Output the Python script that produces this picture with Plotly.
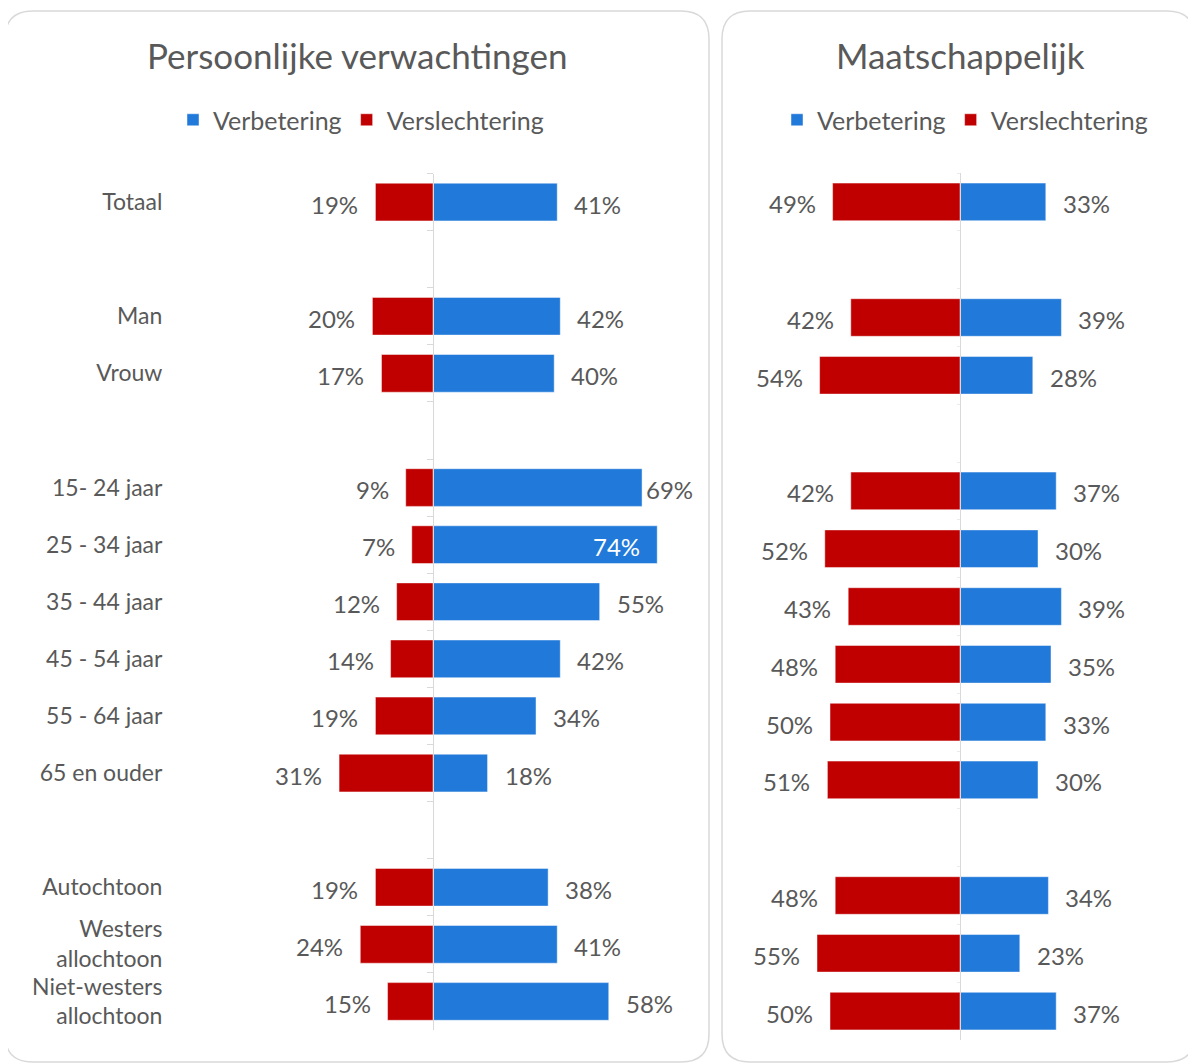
import plotly.graph_objects as go

W, H = 1196, 1064
OFF = 8  # page body margin offset

# ---------------- data ----------------
categories = ["Totaal", " ", "Man", "Vrouw", "  ",
              "15- 24 jaar", "25 - 34 jaar", "35 - 44 jaar", "45 - 54 jaar", "55 - 64 jaar", "65 en ouder",
              "   ", "Autochtoon", "Westers<br>allochtoon", "Niet-westers<br>allochtoon"]

pers_verbetering = [41, None, 42, 40, None, 69, 74, 55, 42, 34, 18, None, 38, 41, 58]
pers_verslechtering = [19, None, 20, 17, None, 9, 7, 12, 14, 19, 31, None, 19, 24, 15]

maat_verbetering = [33, None, 39, 28, None, 37, 30, 39, 35, 33, 30, None, 34, 23, 37]
maat_verslechtering = [49, None, 42, 54, None, 42, 52, 43, 48, 50, 51, None, 48, 55, 50]

series_names = ["Verbetering", "Verslechtering"]
panel_titles = ["Persoonlijke verwachtingen", "Maatschappelijk"]

# ---------------- style ----------------
BLUE = "#2179D9"
RED = "#C00000"
TXT = "#595959"
GRID = "#D9D9D9"
FONT = "Lato, 'Open Sans', sans-serif"

# label placement exceptions (style, not data)
left_blue_label_mode = {"25 - 34 jaar": "inside", "15- 24 jaar": "tight"}


def px(xp):
    return (xp - OFF) / W


def py(yp):
    return 1 - (yp - OFF) / H


fig = go.Figure()

# left panel bars
fig.add_trace(go.Bar(y=categories, x=pers_verbetering, orientation="h", name=series_names[0],
                     marker=dict(color=BLUE, line=dict(color="rgba(255,255,255,0.45)", width=1)),
                     width=0.66, xaxis="x", yaxis="y", legend="legend", hoverinfo="skip"))
fig.add_trace(go.Bar(y=categories, x=[-v if v is not None else None for v in pers_verslechtering],
                     orientation="h", name=series_names[1],
                     marker=dict(color=RED, line=dict(color="rgba(255,255,255,0.45)", width=1)),
                     width=0.66, xaxis="x", yaxis="y", legend="legend", hoverinfo="skip"))

# right panel bars
fig.add_trace(go.Bar(y=categories, x=maat_verbetering, orientation="h", name=series_names[0],
                     marker=dict(color=BLUE, line=dict(color="rgba(255,255,255,0.45)", width=1)),
                     width=0.65, xaxis="x2", yaxis="y2", legend="legend2", hoverinfo="skip"))
fig.add_trace(go.Bar(y=categories, x=[-v if v is not None else None for v in maat_verslechtering],
                     orientation="h", name=series_names[1],
                     marker=dict(color=RED, line=dict(color="rgba(255,255,255,0.45)", width=1)),
                     width=0.65, xaxis="x2", yaxis="y2", legend="legend2", hoverinfo="skip"))

annotations = []
LBL = 24
GAP = 15

# data labels
for xa, ya, pos_vals, neg_vals, modes in [
    ("x", "y", pers_verbetering, pers_verslechtering, left_blue_label_mode),
    ("x2", "y2", maat_verbetering, maat_verslechtering, {}),
]:
    for cat, pv, nv in zip(categories, pos_vals, neg_vals):
        if pv is not None:
            mode = modes.get(cat, "outside")
            if mode == "inside":
                annotations.append(dict(x=pv, y=cat, xref=xa, yref=ya, text=f"{pv}%", showarrow=False,
                                        xanchor="right", xshift=-GAP, yshift=-2,
                                        font=dict(family=FONT, size=LBL, color="white")))
            else:
                annotations.append(dict(x=pv, y=cat, xref=xa, yref=ya, text=f"{pv}%", showarrow=False,
                                        xanchor="left", xshift=(2 if mode == "tight" else GAP), yshift=-2,
                                        font=dict(family=FONT, size=LBL, color=TXT)))
        if nv is not None:
            annotations.append(dict(x=-nv, y=cat, xref=xa, yref=ya, text=f"{nv}%", showarrow=False,
                                    xanchor="right", xshift=-GAP, yshift=-2,
                                    font=dict(family=FONT, size=LBL, color=TXT)))

# panel titles
for title, cx in zip(panel_titles, [357, 960]):
    annotations.append(dict(x=px(cx), y=py(55), xref="paper", yref="paper", text=title, showarrow=False,
                            xanchor="center", yanchor="middle", font=dict(family=FONT, size=35, color=TXT)))


def rounded_rect(x0, y0, x1, y1, r):
    rx, ry = r / W, r / H
    X0, X1 = px(x0), px(x1)
    Y0, Y1 = py(y0), py(y1)  # Y0 top (larger), Y1 bottom
    return (f"M {X0 + rx},{Y0} L {X1 - rx},{Y0} Q {X1},{Y0} {X1},{Y0 - ry} "
            f"L {X1},{Y1 + ry} Q {X1},{Y1} {X1 - rx},{Y1} "
            f"L {X0 + rx},{Y1} Q {X0},{Y1} {X0},{Y1 + ry} "
            f"L {X0},{Y0 - ry} Q {X0},{Y0} {X0 + rx},{Y0} Z")


shapes = [
    dict(type="path", xref="paper", yref="paper", path=rounded_rect(5, 11, 709, 1062, 28),
         line=dict(color=GRID, width=1.5), fillcolor="rgba(0,0,0,0)", layer="below"),
    dict(type="path", xref="paper", yref="paper", path=rounded_rect(722, 11, 1195, 1062, 28),
         line=dict(color=GRID, width=1.5), fillcolor="rgba(0,0,0,0)", layer="below"),
]

n = len(categories)
common_y = dict(type="category", categoryorder="array", categoryarray=categories,
                range=[n - 0.5, -0.5], showgrid=False, zeroline=False, fixedrange=True)

fig.update_layout(
    width=W, height=H,
    margin=dict(l=0, r=0, t=0, b=0),
    paper_bgcolor="white", plot_bgcolor="rgba(0,0,0,0)",
    barmode="relative", bargap=0.34,
    font=dict(family=FONT, color=TXT),
    xaxis=dict(domain=[px(250), px(700)], range=[-(433 - 250) / 3.03, (700 - 433) / 3.03],
               showgrid=False, zeroline=False, showticklabels=False, showline=False, anchor="y"),
    yaxis=dict(**common_y, domain=[py(1030), py(173.5)], anchor="free", position=px(433),
               showline=True, linecolor=GRID, linewidth=1,
               ticks="outside", ticklen=6, tickcolor=GRID, tickwidth=1, tickson="boundaries",
               showticklabels=True, ticklabelstandoff=266,
               tickfont=dict(family=FONT, size=23, color=TXT)),
    xaxis2=dict(domain=[px(730), px(1190)], range=[-(960 - 730) / 2.6, (1190 - 960) / 2.6],
                showgrid=False, zeroline=False, showticklabels=False, showline=False, anchor="y2"),
    yaxis2=dict(**common_y, domain=[py(1040), py(173)], anchor="free", position=px(960),
                showline=True, linecolor=GRID, linewidth=1,
                ticks="outside", ticklen=3, tickcolor="#EBEBEB", tickwidth=1, tickson="boundaries",
                showticklabels=False),
    legend=dict(orientation="h", x=px(361), xanchor="center", y=py(120), yanchor="middle",
                font=dict(family=FONT, size=25, color=TXT), bgcolor="rgba(0,0,0,0)",
                traceorder="normal", itemwidth=30),
    legend2=dict(orientation="h", x=px(965), xanchor="center", y=py(120), yanchor="middle",
                 font=dict(family=FONT, size=25, color=TXT), bgcolor="rgba(0,0,0,0)",
                 traceorder="normal", itemwidth=30),
    annotations=annotations,
    shapes=shapes,
    showlegend=True,
)

fig.write_html("out.html")
